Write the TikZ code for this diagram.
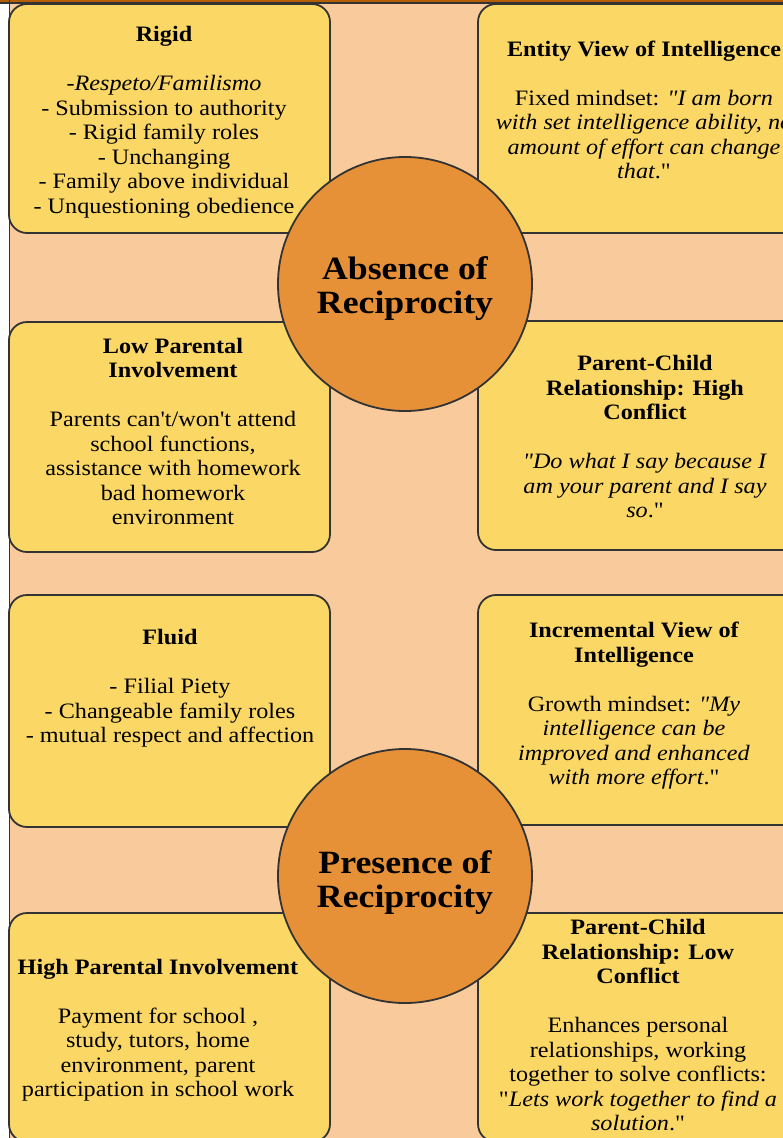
\documentclass[tikz,border=0pt]{standalone}
\usepackage{fontspec}
\setmainfont{Liberation Serif}[Ligatures=TeXOff, FakeStretch=1.1]

\definecolor{peach}{HTML}{F9CB9C}
\definecolor{boxyellow}{HTML}{FBD866}
\definecolor{circorange}{HTML}{E69138}
\definecolor{edgegray}{HTML}{333333}
\definecolor{topbrown}{HTML}{B45F06}

\begin{document}
\begin{tikzpicture}[x=1pt,y=-1pt,
          yellowbox/.style={rectangle, rounded corners=18pt, draw=edgegray,
            fill=boxyellow, line width=1.8pt, minimum width=334pt},
          boxtext/.style={align=center, font=\fontsize{22}{24.5}\selectfont},
          orangecircle/.style={circle, draw=edgegray, fill=circorange,
            line width=1.8pt, minimum size=254pt},
          circletext/.style={align=center, font=\fontsize{32.5}{34}\selectfont\bfseries}]

        \useasboundingbox (0,0) rectangle (783,1138);
        \clip (0,0) rectangle (783,1138);
        \fill[peach] (9,0) rectangle (783,1138);

        % boxes
        \node[yellowbox, minimum width=321pt, minimum height=229pt] (rigid)   at (169.5,118.5) {};
        \node[yellowbox, minimum height=229pt]                      (entity)  at (645,118.5) {};
        \node[yellowbox, minimum width=321pt, minimum height=230pt] (lowpar)  at (169.5,437) {};
        \node[yellowbox, minimum height=229pt]                      (highcon) at (645,435.5) {};
        \node[yellowbox, minimum width=321pt, minimum height=232pt] (fluid)   at (169.5,711) {};
        \node[yellowbox, minimum height=230pt]                      (incr)    at (645,710) {};
        \node[yellowbox, minimum width=321pt, minimum height=229pt] (highpar) at (169.5,1027.5) {};
        \node[yellowbox, minimum height=229pt]                      (lowcon)  at (645,1027.5) {};

        % circles
        \node[orangecircle] (absence)  at (405,284) {};
        \node[orangecircle] (presence) at (405,876) {};
        \node[circletext] (absencetxt)  at (405,289) {Absence of\\Reciprocity};
        \node[circletext] (presencetxt) at (405,883) {Presence of\\Reciprocity};

        % texts
        \node[boxtext] (rigidtxt) at (164,122) {\textbf{Rigid}\\[24.5pt]
          -\textit{Respeto/Familismo}\\ - Submission to authority\\ - Rigid family roles\\
          - Unchanging\\ - Family above individual\\ - Unquestioning obedience};
        \node[boxtext] (entitytxt) at (644,110) {\textbf{Entity View of Intelligence}\\[24.5pt]
          Fixed mindset: \textit{"I am born}\\ \textit{with set intelligence ability, no}\\
          \textit{amount of effort can change}\\ \textit{that}."};
        \node[boxtext] (lowpartxt) at (173,431.5) {\textbf{Low Parental}\\ \textbf{Involvement}\\[24.5pt]
          Parents can't/won't attend\\ school functions,\\ assistance with homework\\
          bad homework\\ environment};
        \node[boxtext] (highcontxt) at (645,437) {\textbf{Parent-Child}\\ \textbf{Relationship: High}\\
          \textbf{Conflict}\\[24.5pt]
          \textit{"Do what I say because I}\\ \textit{am your parent and I say}\\ \textit{so}."};
        \node[boxtext] (fluidtxt) at (170,688.5) {\textbf{Fluid}\\[24.5pt]
          - Filial Piety\\ - Changeable family roles\\ - mutual respect and affection};
        \node[boxtext] (incrtxt) at (634,706) {\textbf{Incremental View of}\\ \textbf{Intelligence}\\[24.5pt]
          Growth mindset: \textit{"My}\\ \textit{intelligence can be}\\
          \textit{improved and enhanced}\\ \textit{with more effort}."};
        \node[boxtext] (highpartxt) at (158,1030) {\textbf{High Parental Involvement}\\[24.5pt]
          Payment for school ,\\ study, tutors, home\\ environment, parent\\ participation in school work};
        \node[boxtext] (lowcontxt) at (638,1025.5) {\textbf{Parent-Child}\\ \textbf{Relationship: Low}\\
          \textbf{Conflict}\\[24.5pt]
          Enhances personal\\ relationships, working\\ together to solve conflicts:\\
          "\textit{Lets work together to find a}\\ \textit{solution}."};

        % frame
        \fill[topbrown] (0,0) rectangle (783,2.5);
        \draw[edgegray, line width=1.2pt] (0,3) -- (783,3);
        \draw[edgegray, line width=1.5pt] (9.5,0) -- (9.5,1138);

      \end{tikzpicture}
\end{document}
